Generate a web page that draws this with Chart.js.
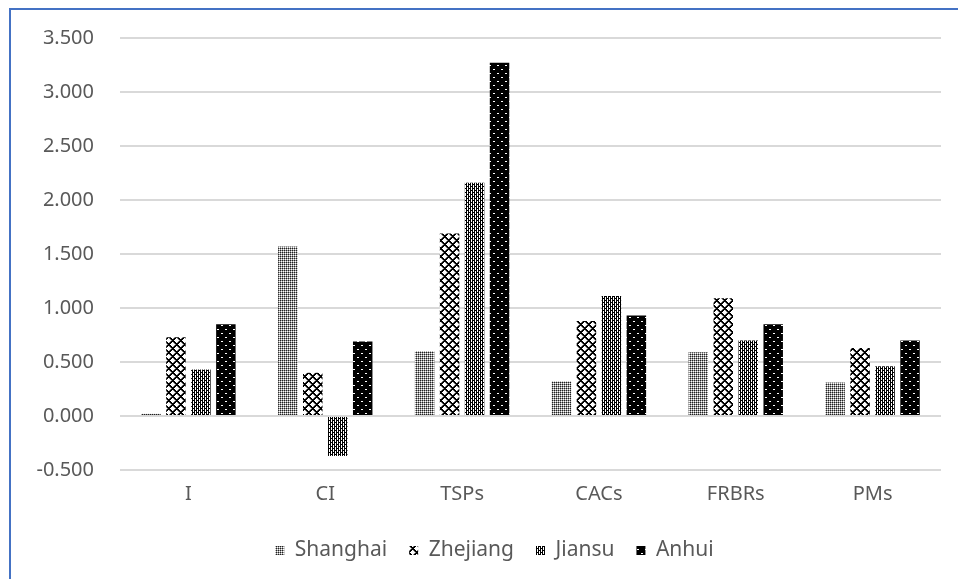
<!DOCTYPE html>
<html>
<head>
<meta charset="utf-8">
<script src="https://cdn.jsdelivr.net/npm/chart.js@4/dist/chart.umd.min.js"></script>
<style>
  html,body{margin:0;padding:0;background:#fff;}
  #wrap{position:relative;width:958px;height:579px;overflow:hidden;}
  #frame{position:absolute;left:9px;top:8px;width:960px;height:600px;border-left:2px solid #4472C4;border-top:2px solid #4472C4;box-sizing:border-box;pointer-events:none;}
  canvas{position:absolute;left:0;top:0;}
</style>
</head>
<body>
<div id="wrap">
  <canvas id="c" width="958" height="579"></canvas>
  <div id="frame"></div>
</div>
<script>
const categories = ['I', 'CI', 'TSPs', 'CACs', 'FRBRs', 'PMs'];
const seriesNames = ['Shanghai', 'Zhejiang', 'Jiansu', 'Anhui'];
const shanghai = [0.02, 1.57, 0.60, 0.32, 0.59, 0.31];
const zhejiang = [0.73, 0.40, 1.69, 0.88, 1.09, 0.63];
const jiansu   = [0.43, -0.37, 2.16, 1.11, 0.70, 0.46];
const anhui    = [0.85, 0.69, 3.27, 0.93, 0.85, 0.70];
const yMin = -0.5, yMax = 3.5, yStep = 0.5;

function makePattern(w, h, fn) {
  const c = document.createElement('canvas');
  c.width = w; c.height = h;
  const x = c.getContext('2d');
  for (let yy = 0; yy < h; yy++) {
    for (let xx = 0; xx < w; xx++) {
      x.fillStyle = fn(xx, yy);
      x.fillRect(xx, yy, 1, 1);
    }
  }
  return x.createPattern(c, 'repeat');
}
const ctx = document.getElementById('c').getContext('2d');

// Shanghai: fine grey checker grid
const pShanghai = makePattern(4, 4, (x, y) => {
  if (x % 2 === 0 && y % 2 === 0) return '#222222';
  if (x % 2 === 1 && y % 2 === 1) return '#ffffff';
  return '#999999';
});
// Zhejiang: bold diamond lattice
const pZhejiang = makePattern(8, 8, (x, y) => {
  const a = (x + y) % 8, b = (x - y + 8) % 8;
  if (a <= 1 || b <= 1) return '#000000';
  if (a === 7 || b === 7) return '#888888';
  return '#ffffff';
});
// Jiansu: vertical black stripes with dotted white columns
const pJiansu = makePattern(4, 4, (x, y) => {
  if (x === 0 || x === 2) return '#000000';
  if (x === 1) return y === 0 ? '#000000' : '#ffffff';
  return y === 2 ? '#000000' : '#ffffff';
});
// Anhui: black with sparse white dots
const pAnhui = makePattern(8, 8, (x, y) => {
  if ((x === 1 || x === 2) && y === 1) return '#ffffff';
  if ((x === 5 || x === 6) && y === 5) return '#ffffff';
  return '#000000';
});

const FONT = "'Noto Sans', 'DejaVu Sans', sans-serif";
const TXT = '#595959';

const legendShift = {
  id: 'legendShift',
  afterLayout(chart) {
    if (chart.legend) { chart.legend.left += 24; chart.legend.right += 24; }
  }
};

const chart = new Chart(ctx, {
  type: 'bar',
  data: {
    labels: categories,
    datasets: [
      { label: seriesNames[0], data: shanghai, backgroundColor: pShanghai },
      { label: seriesNames[1], data: zhejiang, backgroundColor: pZhejiang },
      { label: seriesNames[2], data: jiansu,   backgroundColor: pJiansu },
      { label: seriesNames[3], data: anhui,    backgroundColor: pAnhui }
    ]
  },
  plugins: [legendShift],
  options: {
    responsive: false,
    animation: false,
    devicePixelRatio: 1,
    datasets: { bar: { categoryPercentage: 0.73, barPercentage: 0.78, borderWidth: 0 } },
    layout: { padding: { left: 0, right: 17, top: 37, bottom: 8 } },
    plugins: {
      legend: {
        position: 'bottom',
        labels: {
          font: { family: FONT, size: 21 },
          color: TXT,
          boxWidth: 9,
          boxHeight: 9,
          padding: 22
        }
      },
      tooltip: { enabled: false },
      title: { display: false }
    },
    scales: {
      x: {
        grid: { display: false, drawTicks: false },
        border: { display: false },
        ticks: { font: { family: FONT, size: 20 }, color: TXT, padding: 12 }
      },
      y: {
        min: yMin, max: yMax,
        afterFit: (s) => { s.width = 120; },
        grid: { color: '#d9d9d9', lineWidth: 2, drawTicks: false },
        border: { display: false },
        ticks: {
          stepSize: yStep,
          padding: 26,
          font: { family: FONT, size: 20 },
          color: TXT,
          callback: (v) => Number(v).toFixed(3)
        }
      }
    }
  }
});
</script>
</body>
</html>
